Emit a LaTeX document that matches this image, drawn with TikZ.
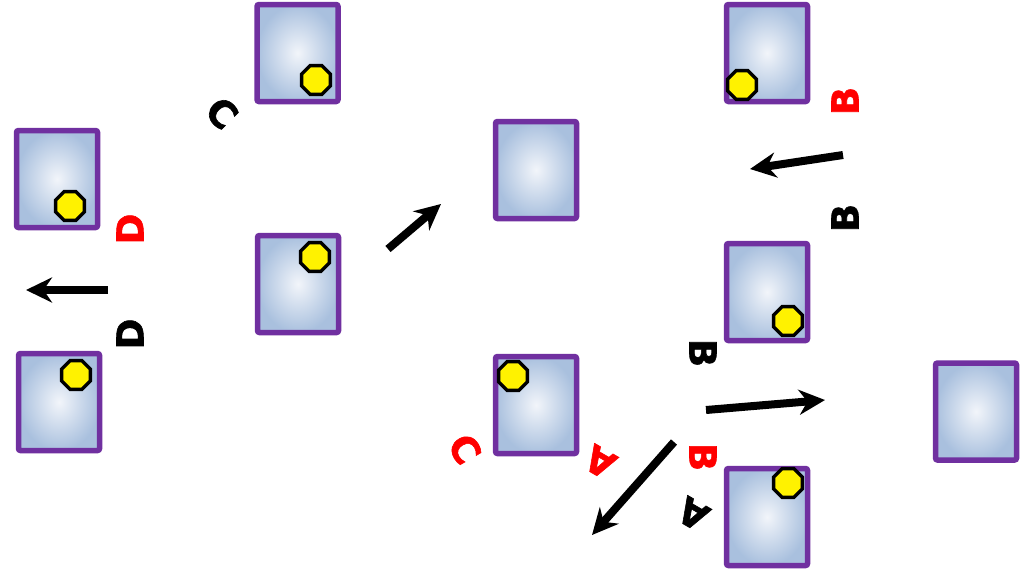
\documentclass[tikz,border=0pt]{standalone}
\usepackage{fontspec}
\setmainfont{DejaVu Sans}
\newfontfamily\heavyfont{DejaVu Sans Bold}[FakeBold=1.6]
\usetikzlibrary{shapes.geometric}
\usetikzlibrary{arrows.meta}

\definecolor{panelpurple}{HTML}{7030A0}
\definecolor{panelblue}{HTML}{A9C0DE}
\definecolor{panelwhite}{HTML}{F2F5FA}

\begin{document}
\begin{tikzpicture}[x=1pt,y=-1pt, >={Stealth[length=26pt,width=25pt]}]
    \tikzstyle{panel}=[draw=panelpurple, line width=5.5pt, rounded corners=2pt, minimum width=81pt, minimum height=97pt, inner color=panelwhite, outer color=panelblue]
    \tikzstyle{knob}=[regular polygon, regular polygon sides=8, draw=black, line width=3.4pt, fill=yellow, minimum size=31pt, inner sep=0pt]
    \tikzstyle{move}=[->, line width=8pt]
    \tikzstyle{tag}=[font=\fontsize{37}{37}\selectfont\heavyfont, inner sep=0pt]

    \useasboundingbox (0,0) rectangle (1024,573);

    % panels
    \node[panel] (p1) at (297.5,53) {};
    \node[panel] (p2) at (57,179) {};
    \node[panel] (p3) at (59,402) {};
    \node[panel] (p4) at (298,284) {};
    \node[panel] (p5) at (536,170) {};
    \node[panel] (p6) at (536,405) {};
    \node[panel] (p7) at (767,53) {};
    \node[panel] (p8) at (767,292) {};
    \node[panel] (p9) at (767,517) {};
    \node[panel] (p10) at (976,411.5) {};

    % knobs
    \node[knob] (k1) at (316,80) {};
    \node[knob] (k2) at (70,206) {};
    \node[knob] (k3) at (76,375) {};
    \node[knob] (k4) at (315,257) {};
    \node[knob] (k6) at (513,376) {};
    \node[knob] (k7) at (742,85) {};
    \node[knob] (k8) at (788,321) {};
    \node[knob] (k9) at (788,483) {};

    % labels
    \node[tag, rotate=-45] (c1) at (222,113) {C};
    \node[tag, red, rotate=90] (d1) at (130,229) {D};
    \node[tag, rotate=90] (d2) at (130,334) {D};
    \node[tag, red, rotate=90] (b1) at (845,101) {B};
    \node[tag, rotate=90] (b2) at (845,218) {B};
    \node[tag, rotate=-90] (b3) at (703,353) {B};
    \node[tag, red, rotate=-90] (b4) at (703,457) {B};
    \node[tag, rotate=150] (a1) at (693,514) {A};
    \node[tag, red, rotate=150] (a2) at (600,462) {A};
    \node[tag, red, rotate=-60] (c2) at (465,449) {C};

    % moves
    \coordinate (m1s) at (108,290);  \coordinate (m1e) at (26,290);
    \coordinate (m2s) at (388,249);  \coordinate (m2e) at (441,204);
    \coordinate (m3s) at (843,155);  \coordinate (m3e) at (750,169);
    \coordinate (m4s) at (706,410);  \coordinate (m4e) at (825,400);
    \coordinate (m5s) at (674,442);  \coordinate (m5e) at (592,535);
    \draw[move] (m1s) -- (m1e);
    \draw[move] (m2s) -- (m2e);
    \draw[move] (m3s) -- (m3e);
    \draw[move] (m4s) -- (m4e);
    \draw[move] (m5s) -- (m5e);
\end{tikzpicture}
\end{document}
